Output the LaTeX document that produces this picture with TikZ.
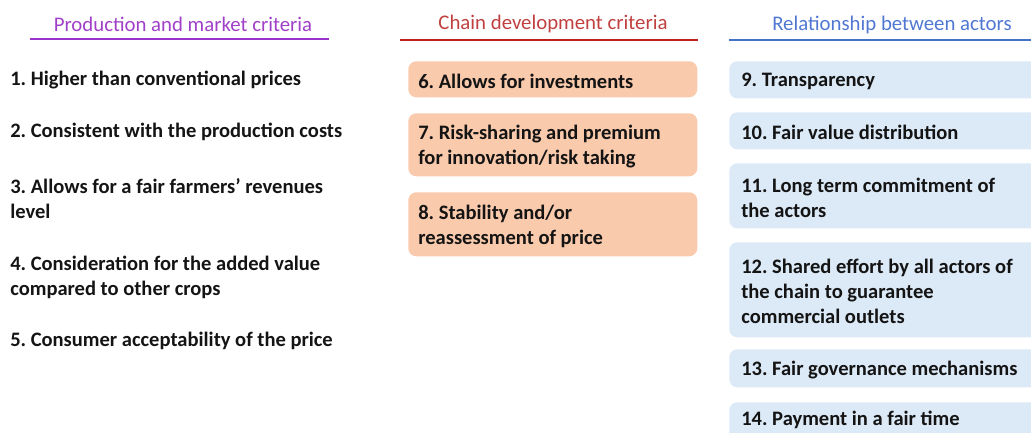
\documentclass[tikz,border=0pt]{standalone}
\usepackage{fontspec}
\setmainfont{Carlito}
\frenchspacing
\definecolor{ttlA}{RGB}{160,64,200}
\definecolor{lnA}{RGB}{153,51,204}
\definecolor{ttlB}{RGB}{192,64,64}
\definecolor{lnB}{RGB}{192,32,32}
\definecolor{ttlC}{RGB}{80,120,210}
\definecolor{lnC}{RGB}{68,114,196}
\definecolor{peach}{RGB}{250,202,172}
\definecolor{pale}{RGB}{220,233,246}
\definecolor{ink}{RGB}{20,20,20}
\newcommand{\critfont}{\fontsize{15.4}{18.75}\selectfont\bfseries\color{ink}}
\newcommand{\headfont}{\fontsize{15.6}{18}\selectfont}
\tikzset{
  head/.style={font=\headfont, anchor=center, inner sep=0pt},
  rule/.style={line width=1.5pt},
  crit/.style={font=\critfont, anchor=west, align=left, inner sep=0pt},
  obox/.style={fill=peach, rounded corners=6pt, anchor=north west, inner sep=0pt,
    minimum width=216.75pt},
  bbox/.style={fill=pale, rounded corners=6pt, anchor=north west, inner sep=0pt,
    minimum width=237pt},
  otext/.style={crit, xshift=7.5pt, yshift=-1.5pt},
  btext/.style={crit, xshift=9pt, yshift=-1.5pt}
}
\begin{document}
\begin{tikzpicture}[x=0.75pt,y=-0.75pt]
\useasboundingbox (0,0) rectangle (1031,432);
% headings
\node[head, text=ttlA] (hA) at (183,24) {Production and market criteria};
\coordinate (hA1) at (30,39); \coordinate (hA2) at (329,39);
\draw[rule, lnA] (hA1) -- (hA2);
\node[head, text=ttlB] (hB) at (553,24) {Chain development criteria};
\coordinate (hB1) at (400,40); \coordinate (hB2) at (698,40);
\draw[rule, lnB] (hB1) -- (hB2);
\node[head, text=ttlC] (hC) at (892,25) {Relationship between actors};
\coordinate (hC1) at (729,40); \coordinate (hC2) at (1031,40);
\draw[rule, lnC] (hC1) -- (hC2);
% left column
\node[crit] (c1) at (10,80) {1. Higher than conventional prices};
\node[crit] (c2) at (10,132) {2. Consistent with the production costs};
\node[crit] (c3) at (10,199) {3. Allows for a fair farmers’ revenues\\level};
\node[crit] (c4) at (10,277.5) {4. Consideration for the added value\\compared to other crops};
\node[crit] (c5) at (10,341) {5. Consumer acceptability of the price};
% middle column
\node[obox, minimum height=27pt] (b6) at (408,61) {};
\node[otext] (c6) at (b6.west) {6. Allows for investments};
\node[obox, minimum height=47.25pt] (b7) at (408,113) {};
\node[otext] (c7) at (b7.west) {7. Risk-sharing and premium\\for innovation/risk taking};
\node[obox, minimum height=48pt] (b8) at (408,192) {};
\node[otext] (c8) at (b8.west) {8. Stability and/or\\reassessment of price};
% right column
\node[bbox, minimum height=27.75pt] (b9) at (729,61) {};
\node[btext] (c9) at (b9.west) {9. Transparency};
\node[bbox, minimum height=27.75pt] (b10) at (729,112) {};
\node[btext] (c10) at (b10.west) {10. Fair value distribution};
\node[bbox, minimum height=48.75pt] (b11) at (729,163) {};
\node[btext] (c11) at (b11.west) {11. Long term commitment of\\the actors};
\node[bbox, minimum height=71.25pt] (b12) at (729,242) {};
\node[btext] (c12) at (b12.west) {12. Shared effort by all actors of\\the chain to guarantee\\commercial outlets};
\node[bbox, minimum height=28.5pt] (b13) at (729,349) {};
\node[btext] (c13) at (b13.west) {13. Fair governance mechanisms};
\node[bbox, minimum height=30pt] (b14) at (729,402) {};
\node[btext, yshift=3.5pt] (c14) at (b14.west) {14. Payment in a fair time};
\end{tikzpicture}
\end{document}
